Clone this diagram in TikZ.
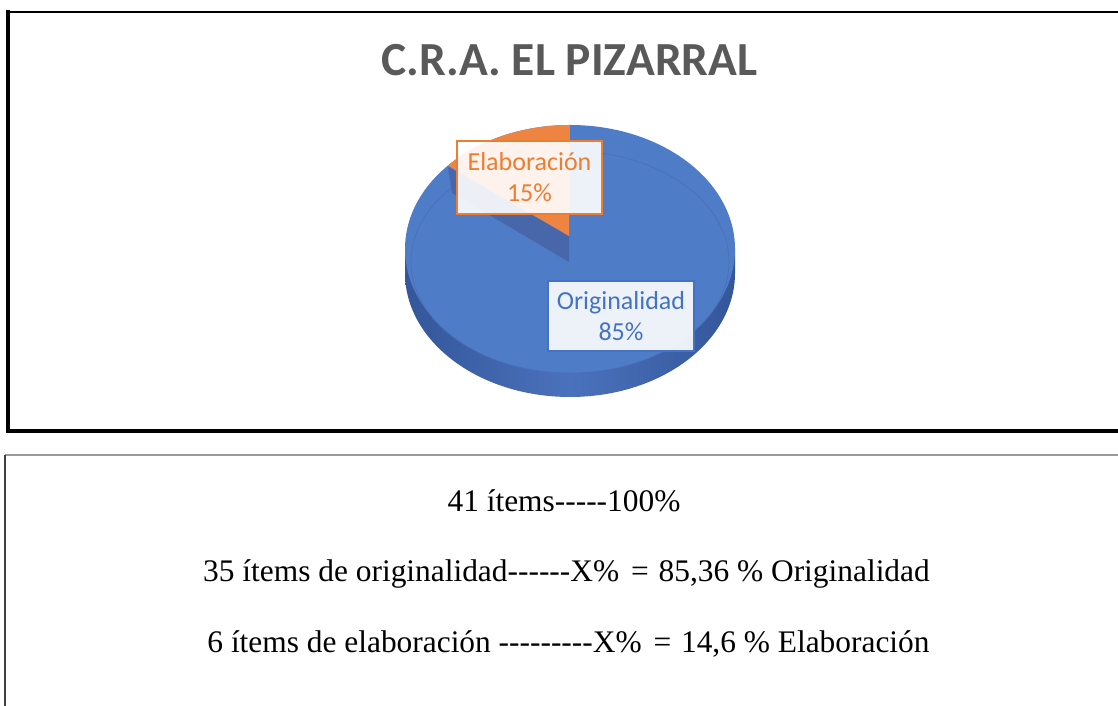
\documentclass[tikz,border=0pt]{standalone}
\usepackage{fontspec}
\setmainfont{Liberation Serif}
\newfontfamily\carlito{Carlito}
\definecolor{titlegray}{HTML}{595959}
\definecolor{elabc}{HTML}{ED7D31}
\definecolor{origc}{HTML}{4472C4}
\definecolor{pietop}{HTML}{4F7CC6}
\definecolor{piesideA}{HTML}{34569A}
\definecolor{piesideB}{HTML}{4A72BC}
\definecolor{piewall}{HTML}{4767AA}
\definecolor{pieedge}{HTML}{476FB8}
\definecolor{elabfill}{HTML}{EE8442}
\newcommand\hyph{-\kern0pt\relax}
\newcommand\eqsp{\ \hspace{4pt}=\ \hspace{2pt}}
\tikzset{
  lblbox/.style={rectangle, fill=white, fill opacity=0.9, text opacity=1,
    inner sep=0pt, align=center, font=\carlito\fontsize{26}{31}\selectfont},
  calcline/.style={anchor=base, inner sep=0pt, font=\fontsize{31.4}{36}\selectfont},
  frameline/.style={line cap=rect}
}
\begin{document}
\begin{tikzpicture}[x=1pt,y=1pt]
\useasboundingbox (0,0) rectangle (1118,706);
\fill[white] (0,0) rectangle (1118,706);
% upper frame
\draw[frameline, line width=2pt] (8,694) -- (1125,694);
\draw[frameline, line width=4pt] (8,694) -- (8,275) -- (1125,275);
% lower frame
\draw[line width=1.5pt, black!40] (5,251) -- (1125,251);
\draw[line width=1.5pt, black!75] (5,251) -- (5,-10);
% title
\node[anchor=base, inner sep=0pt, text=titlegray,
  font=\carlito\bfseries\fontsize{47.5}{57}\selectfont] (title) at (569.5,630) {C.R.A. EL PIZARRAL};
% pie side
\shade[left color=piesideA, right color=piesideA, middle color=piesideB]
  (405,457) -- (405,433) arc[start angle=180, end angle=360, x radius=165, y radius=124] -- (735,457) -- cycle;
% pie top
\fill[pietop] (570,457) ellipse[x radius=165, y radius=124];
\draw[pieedge, line width=0.6pt] (570,444) ellipse[x radius=159, y radius=111];
% wall of the blue slice
\fill[piewall] (448,539) -- (452,513) -- (569,444) -- (569,470) -- cycle;
% orange slice
\fill[elabfill] (569,470) -- (570,581) arc[start angle=90, end angle=137.7, x radius=165, y radius=124] -- cycle;
% labels
\node[lblbox, draw=elabc, line width=2.2pt, text=elabc, minimum width=145pt, minimum height=73pt]
  (elab) at (529.5,528.5) {Elaboración\\15\%};
\node[lblbox, draw=origc, line width=1.4pt, text=origc, minimum width=146pt, minimum height=70pt]
  (orig) at (621,390) {Originalidad\\85\%};
% calculation text
\node[calcline] (l1) at (564,194) {41 ítems\hyph\hyph\hyph\hyph\hyph 100\%};
\node[calcline] (l2) at (566.5,124) {35 ítems de originalidad\hyph\hyph\hyph\hyph\hyph\hyph X\%\eqsp 85,36 \% Originalidad};
\node[calcline] (l3) at (568.5,53) {6 ítems de elaboración \hyph\hyph\hyph\hyph\hyph\hyph\hyph\hyph\hyph X\%\eqsp 14,6 \% Elaboración};
\end{tikzpicture}
\end{document}
